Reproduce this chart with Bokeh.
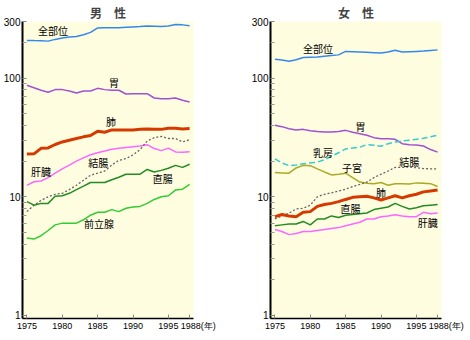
from bokeh.plotting import figure
from bokeh.layouts import row
from bokeh.models import FixedTicker, Label, Range1d, AllLabels
from bokeh.embed import file_html
from bokeh.resources import INLINE

years = list(range(1975, 1999))
x_ticks = [1975, 1980, 1985, 1990, 1995, 1998]
NB = "\u00a0"
x_tick_labels = {1975: "1975", 1980: "1980", 1985: "1985", 1990: "1990", 1995: "1995",
                 1998: NB * 7 + "1988(年)"}
y_ticks = [1, 10, 100, 300]

# 男性
m_all = [207, 207, 206, 205, 212, 218, 222, 224, 232, 243, 265, 266, 266, 266, 268, 270, 272, 275, 274, 272, 275, 283, 281, 276]
m_stomach = [87, 83, 79, 76, 80, 80, 78, 75, 78, 78, 82, 80, 79, 79, 73.5, 74, 74, 74, 68, 67, 67, 68, 65, 63]
m_lung = [22.9, 23, 25.6, 25.8, 27.6, 29, 30, 31, 32, 32.8, 35.7, 35, 36.6, 36.6, 36.6, 36.6, 37, 37.2, 37, 37, 37.8, 37.8, 37.3, 37.6]
m_liver = [12.5, 13.4, 13.6, 14.5, 15.8, 17.2, 18.5, 20, 21.3, 22.6, 23.5, 24.3, 25.2, 25.6, 26, 26.4, 26.8, 27.5, 25.5, 24.5, 25.7, 23.9, 23.7, 24]
m_colon = [7.5, 8.5, 9.3, 10.0, 10.5, 10.7, 11.5, 12.5, 13.8, 15.2, 15.8, 16.5, 18.5, 20.3, 21, 22.5, 25, 29.5, 31.5, 32.3, 31, 31, 29, 30.3]
m_rectum = [9.1, 8.5, 8.8, 8.8, 10.1, 10.2, 10.7, 11.5, 12.3, 13.2, 13.2, 13.2, 13.9, 14.6, 15.5, 15.5, 15.5, 17, 16.2, 16.7, 17.4, 18.4, 17.7, 18.8]
m_prostate = [4.5, 4.4, 4.7, 5.2, 5.8, 6.0, 6.0, 6.0, 6.4, 7.0, 7.4, 7.4, 7.8, 7.5, 8.0, 8.2, 8.3, 8.8, 9.5, 10.0, 10.2, 11.4, 11.6, 12.7]

# 女性
f_all = [144, 142, 139, 143, 149, 150, 151, 153, 155, 157, 168, 167, 166, 165, 164, 163, 166, 172, 166, 167, 168, 169, 171, 173]
f_stomach = [40, 39, 37.5, 36.5, 37, 36, 35.5, 35.2, 35.1, 35.5, 36.3, 35, 34, 33, 31.5, 30.8, 30.8, 30.5, 28, 27.5, 27.3, 26.8, 25, 23.8]
f_breast = [20.9, 19.3, 18.3, 18.5, 19.0, 19.3, 19.6, 20.5, 22, 23.5, 25.3, 25.8, 26.2, 27.5, 27.2, 26.7, 28, 28.9, 29.5, 30, 30.5, 31.1, 32, 33]
f_uterus = [16, 15.9, 15.8, 17.5, 18.4, 18.3, 17.2, 16.2, 15.3, 15.5, 15.8, 14.5, 13.3, 13.0, 12.9, 13.2, 12.5, 12.9, 12.9, 12.8, 13.1, 13.0, 12.9, 12.2]
f_colon = [6.5, 6.9, 7.3, 7.9, 8.0, 8.5, 10.0, 10.5, 10.8, 11.2, 11.6, 12.2, 12.7, 13.3, 14.5, 15.5, 16.5, 17.7, 17.7, 17.8, 17.6, 17.3, 17.2, 17.2]
f_lung = [6.8, 7.1, 6.9, 6.8, 7.4, 7.5, 8.3, 8.6, 8.8, 9.1, 9.5, 9.9, 10.0, 10.1, 9.8, 9.4, 9.8, 10.2, 9.8, 10.2, 10.5, 11.0, 11.2, 11.4]
f_rectum = [5.7, 5.8, 5.9, 5.9, 6.2, 5.8, 6.5, 6.5, 6.9, 6.7, 7.0, 7.1, 7.2, 7.3, 7.8, 8.0, 8.2, 8.8, 8.3, 7.9, 8.1, 8.4, 8.5, 8.6]
f_liver = [5.3, 5.1, 4.8, 4.9, 5.1, 5.1, 5.2, 5.3, 5.4, 5.5, 5.7, 5.9, 6.1, 6.5, 6.5, 6.8, 6.9, 7.05, 6.9, 6.8, 6.8, 7.4, 7.2, 7.3]

BG = "#FFFDE0"
JP = "Noto Sans CJK JP"
C_BLUE = "#3388EE"
C_PURPLE = "#A050D0"
C_RED = "#D43A00"
C_MAG = "#FF66FF"
C_GRAY = "#666666"
C_DKGREEN = "#228B22"
C_GREEN = "#33CC33"
C_CYAN = "#33CCCC"
C_OLIVE = "#AAAA22"


def make_panel(title, border_left, border_right):
    p = figure(width=235, height=340, y_axis_type="log",
               x_range=Range1d(1974.38, 1998.55), y_range=Range1d(0.943, 300),
               output_backend="svg", toolbar_location=None,
               min_border_left=border_left, min_border_right=border_right,
               min_border_top=21, min_border_bottom=22)
    p.title.text = title
    p.title.align = "center"
    p.title.text_font = JP
    p.title.text_font_size = "12px"
    p.title.text_font_style = "bold"
    p.title.standoff = 2
    p.background_fill_color = BG
    p.border_fill_color = "white"
    p.outline_line_color = None
    p.xgrid.visible = False
    p.ygrid.visible = False

    xa = p.xaxis[0]
    xa.ticker = FixedTicker(ticks=x_ticks)
    xa.major_label_overrides = x_tick_labels
    xa.major_label_policy = AllLabels()
    xa.major_tick_in = 4
    xa.major_tick_out = 0
    xa.minor_tick_in = 0
    xa.minor_tick_out = 0
    xa.major_tick_line_color = "#888888"
    xa.axis_line_color = "black"
    xa.axis_line_width = 1.5
    xa.major_label_standoff = 2
    xa.major_label_text_font = "Liberation Sans"
    xa.major_label_text_font_size = "9px"
    xa.major_label_text_color = "black"

    ya = p.yaxis[0]
    minors = [m * d for d in (1, 10, 100) for m in range(2, 10) if m * d < 300]
    ya.ticker = FixedTicker(ticks=y_ticks, minor_ticks=minors)
    ya.major_label_overrides = {1: "1", 10: "10", 100: "100", 300: "300"}
    ya.major_tick_in = 4
    ya.major_tick_out = 0
    ya.minor_tick_in = 4
    ya.minor_tick_out = 0
    ya.major_tick_line_color = "#888888"
    ya.minor_tick_line_color = "#999999"
    ya.axis_line_color = "black"
    ya.axis_line_width = 2
    ya.major_label_standoff = 2
    ya.major_label_text_font = "Liberation Sans"
    ya.major_label_text_font_size = "10px"
    ya.major_label_text_color = "black"
    return p


def add_label(p, x, y, text):
    p.add_layout(Label(x=x, y=y, text=text, text_font=JP, text_font_size="10px",
                       text_align="center", text_baseline="middle", text_color="black"))


p1 = make_panel("男　性", 21, 42)
p1.line(years, m_all, line_color=C_BLUE, line_width=1.5)
p1.line(years, m_stomach, line_color=C_PURPLE, line_width=1.5)
p1.line(years, m_lung, line_color=C_RED, line_width=3)
p1.line(years, m_liver, line_color=C_MAG, line_width=1.5)
p1.line(years, m_colon, line_color=C_GRAY, line_width=1.3, line_dash="2 2")
p1.line(years, m_rectum, line_color=C_DKGREEN, line_width=1.5)
p1.line(years, m_prostate, line_color=C_GREEN, line_width=1.5)
add_label(p1, 1978.7, 253, "全部位")
add_label(p1, 1987.3, 91.6, "胃")
add_label(p1, 1986.9, 42.8, "肺")
add_label(p1, 1985.1, 19.6, "結腸")
add_label(p1, 1977.0, 16.4, "肝臓")
add_label(p1, 1994.2, 14.3, "直腸")
add_label(p1, 1985.2, 5.96, "前立腺")

p2 = make_panel("女　性", 35, 29)
p2.line(years, f_all, line_color=C_BLUE, line_width=1.5)
p2.line(years, f_stomach, line_color=C_PURPLE, line_width=1.5)
p2.line(years, f_breast, line_color=C_CYAN, line_width=1.5, line_dash="6 3")
p2.line(years, f_uterus, line_color=C_OLIVE, line_width=1.5)
p2.line(years, f_colon, line_color=C_GRAY, line_width=1.3, line_dash="2 2")
p2.line(years, f_lung, line_color=C_RED, line_width=3)
p2.line(years, f_rectum, line_color=C_DKGREEN, line_width=1.5)
p2.line(years, f_liver, line_color=C_MAG, line_width=1.5)
add_label(p2, 1981.1, 176, "全部位")
add_label(p2, 1987.1, 39.4, "胃")
add_label(p2, 1981.8, 23.7, "乳房")
add_label(p2, 1985.9, 17.5, "子宮")
add_label(p2, 1994.0, 19.7, "結腸")
add_label(p2, 1990.0, 10.9, "肺")
add_label(p2, 1985.7, 7.9, "直腸")
add_label(p2, 1996.6, 6.06, "肝臓")

layout = row(p1, p2)
open("out.html", "w").write(file_html(layout, INLINE))
